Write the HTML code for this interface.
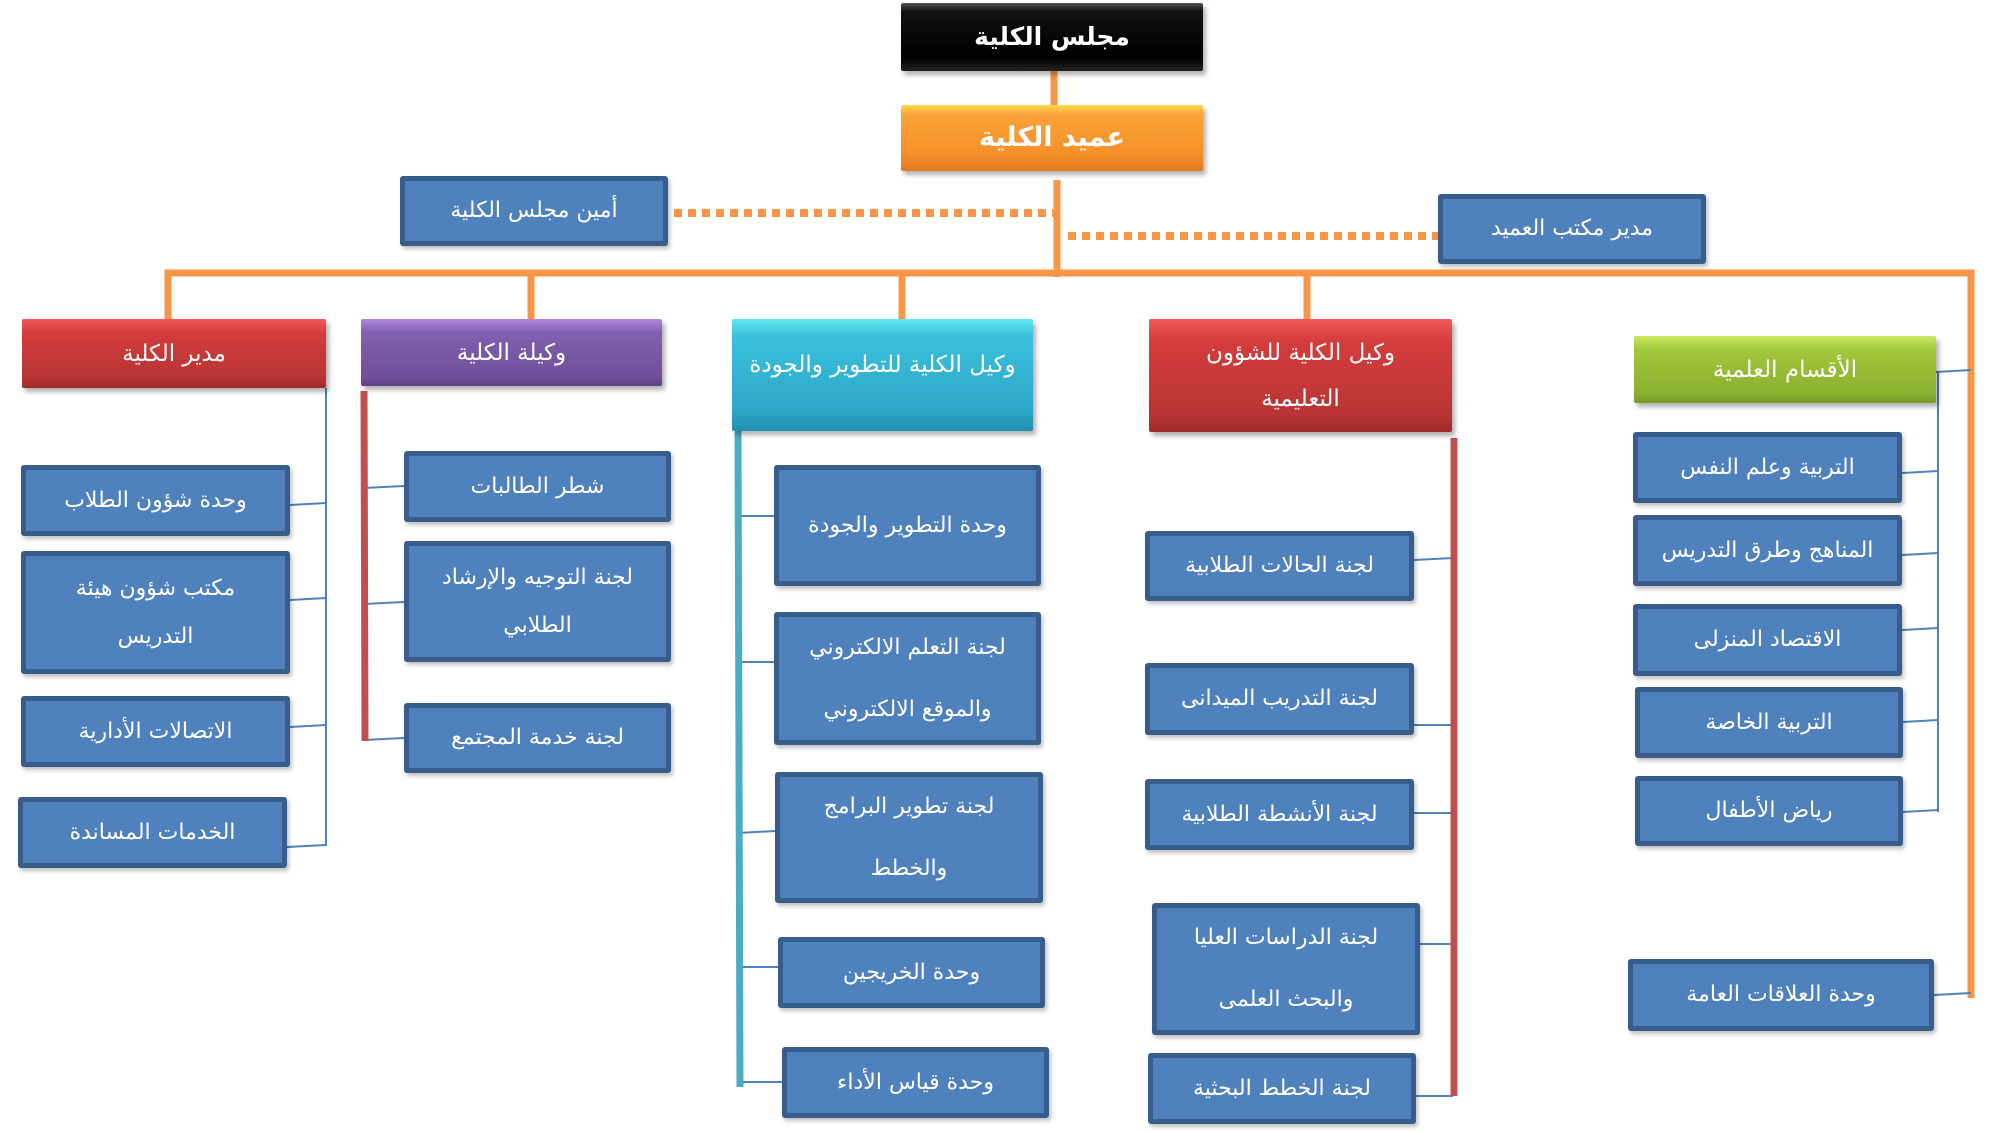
<!DOCTYPE html>
<html><head><meta charset="utf-8"><style>
html,body{margin:0;padding:0;background:#fff;}
body{width:2000px;height:1132px;position:relative;overflow:hidden;font-family:"DejaVu Sans",sans-serif;}
.b{position:absolute;box-sizing:border-box;background:#4f81bd;border:5px solid #385d8a;border-radius:3px;color:#fff;display:flex;align-items:center;justify-content:center;text-align:center;font-size:22px;line-height:48px;direction:rtl;box-shadow:2px 3px 4px rgba(0,0,0,0.25);}
.h{position:absolute;box-sizing:border-box;color:#fff;display:flex;align-items:center;justify-content:center;text-align:center;font-size:23px;line-height:46px;direction:rtl;box-shadow:3px 4px 5px rgba(0,0,0,0.3);border-radius:2px;}
svg{position:absolute;left:0;top:0;}
</style></head><body>
<svg width="2000" height="1132">
<g stroke="#f79646" stroke-width="7" fill="none">
<line x1="1054" y1="71" x2="1054" y2="105"/>
<line x1="1057" y1="180" x2="1057" y2="277"/>
<polyline points="168,319 168,273 1971,273 1971,998"/>
<line x1="531" y1="273" x2="531" y2="319"/>
<line x1="902" y1="273" x2="902" y2="319"/>
<line x1="1307" y1="273" x2="1307" y2="319"/>
</g>
<g stroke="#f79646" stroke-width="8" stroke-dasharray="8,6" fill="none">
<line x1="674" y1="213" x2="1057" y2="213"/>
<line x1="1068" y1="236" x2="1438" y2="236"/>
</g>
<line x1="1934" y1="995" x2="1971" y2="993" stroke="#4f81bd" stroke-width="2"/>
<g stroke="#4f81bd" stroke-width="2" fill="none">
<line x1="326" y1="388" x2="326" y2="846"/>
<line x1="290" y1="505" x2="326" y2="503"/>
<line x1="290" y1="600" x2="326" y2="598"/>
<line x1="290" y1="727" x2="326" y2="725"/>
<line x1="287" y1="847" x2="326" y2="845"/>
<line x1="1938" y1="372" x2="1938" y2="812"/>
<line x1="1936" y1="372" x2="1971" y2="370"/>
<line x1="1902" y1="473" x2="1938" y2="471"/>
<line x1="1902" y1="555" x2="1938" y2="553"/>
<line x1="1902" y1="630" x2="1938" y2="628"/>
<line x1="1902" y1="722" x2="1938" y2="720"/>
<line x1="1902" y1="812" x2="1938" y2="810"/>
<line x1="364" y1="488" x2="404" y2="486"/>
<line x1="364" y1="604" x2="404" y2="602"/>
<line x1="364" y1="740" x2="404" y2="738"/>
<line x1="738" y1="516" x2="774" y2="516"/>
<line x1="738" y1="662" x2="774" y2="662"/>
<line x1="738" y1="833" x2="775" y2="831"/>
<line x1="738" y1="967" x2="778" y2="967"/>
<line x1="738" y1="1082" x2="782" y2="1082"/>
<line x1="1414" y1="560" x2="1453" y2="558"/>
<line x1="1414" y1="725" x2="1453" y2="725"/>
<line x1="1414" y1="813" x2="1453" y2="813"/>
<line x1="1420" y1="944" x2="1453" y2="944"/>
<line x1="1416" y1="1096" x2="1453" y2="1096"/>
</g>
<line x1="364" y1="391" x2="365" y2="741" stroke="#c0504d" stroke-width="7"/>
<line x1="738" y1="431" x2="740" y2="1087" stroke="#4bacc6" stroke-width="7"/>
<line x1="1454" y1="438" x2="1454" y2="1096" stroke="#c0504d" stroke-width="7"/>
</svg>

<div class="h" style="left:901px;top:3px;width:302px;height:68px;background:linear-gradient(#555 0,#111 12%,#000 80%,#222 100%);font-weight:bold;font-size:25px;">مجلس الكلية</div>
<div class="h" style="left:901px;top:105px;width:302px;height:66px;background:linear-gradient(#ffd84a 0,#f9a33a 15%,#f7922a 70%,#e07a20 100%);font-weight:bold;font-size:27px;">عميد الكلية</div>
<div class="b" style="left:400px;top:176px;width:268px;height:70px;">أمين مجلس الكلية</div>
<div class="b" style="left:1438px;top:194px;width:268px;height:70px;">مدير مكتب العميد</div>

<div class="h" style="left:22px;top:319px;width:304px;height:69px;background:linear-gradient(#f0585a 0,#d43c3c 20%,#b83535 85%,#9e2a2a 100%);">مدير الكلية</div>
<div class="h" style="left:361px;top:319px;width:301px;height:67px;background:linear-gradient(#b088e0 0,#8060b0 20%,#70509a 85%,#5e4285 100%);">وكيلة الكلية</div>
<div class="h" style="left:732px;top:319px;width:301px;height:112px;background:linear-gradient(#60e8f0 0,#3ac0dc 15%,#2ea8c8 80%,#2290b0 100%);padding-bottom:20px;">وكيل الكلية للتطوير والجودة</div>
<div class="h" style="left:1149px;top:319px;width:303px;height:113px;background:linear-gradient(#f0585a 0,#d43c3c 20%,#b83535 85%,#9e2a2a 100%);">وكيل الكلية للشؤون<br>التعليمية</div>
<div class="h" style="left:1634px;top:336px;width:302px;height:67px;background:linear-gradient(#c8e860 0,#a2c83c 20%,#8ab030 85%,#789a28 100%);">الأقسام العلمية</div>

<div class="b" style="left:21px;top:465px;width:269px;height:71px;">وحدة شؤون الطلاب</div>
<div class="b" style="left:21px;top:551px;width:269px;height:123px;">مكتب شؤون هيئة<br>التدريس</div>
<div class="b" style="left:21px;top:696px;width:269px;height:71px;">الاتصالات الأدارية</div>
<div class="b" style="left:18px;top:797px;width:269px;height:71px;">الخدمات المساندة</div>

<div class="b" style="left:404px;top:451px;width:267px;height:71px;">شطر الطالبات</div>
<div class="b" style="left:404px;top:541px;width:267px;height:121px;">لجنة التوجيه والإرشاد<br>الطلابي</div>
<div class="b" style="left:404px;top:703px;width:267px;height:70px;">لجنة خدمة المجتمع</div>

<div class="b" style="left:774px;top:465px;width:267px;height:121px;">وحدة التطوير والجودة</div>
<div class="b" style="left:774px;top:612px;width:267px;height:133px;line-height:62px;">لجنة التعلم الالكتروني<br>والموقع الالكتروني</div>
<div class="b" style="left:775px;top:772px;width:268px;height:131px;line-height:62px;">لجنة تطوير البرامج<br>والخطط</div>
<div class="b" style="left:778px;top:937px;width:267px;height:71px;">وحدة الخريجين</div>
<div class="b" style="left:782px;top:1047px;width:267px;height:71px;">وحدة قياس الأداء</div>

<div class="b" style="left:1145px;top:531px;width:269px;height:70px;">لجنة الحالات الطلابية</div>
<div class="b" style="left:1145px;top:663px;width:269px;height:72px;">لجنة التدريب الميدانى</div>
<div class="b" style="left:1145px;top:779px;width:269px;height:71px;">لجنة الأنشطة الطلابية</div>
<div class="b" style="left:1152px;top:903px;width:268px;height:132px;line-height:62px;">لجنة الدراسات العليا<br>والبحث العلمى</div>
<div class="b" style="left:1148px;top:1053px;width:268px;height:71px;">لجنة الخطط البحثية</div>

<div class="b" style="left:1633px;top:432px;width:269px;height:71px;">التربية وعلم النفس</div>
<div class="b" style="left:1633px;top:515px;width:269px;height:71px;">المناهج وطرق التدريس</div>
<div class="b" style="left:1633px;top:604px;width:269px;height:72px;">الاقتصاد المنزلى</div>
<div class="b" style="left:1635px;top:687px;width:268px;height:71px;">التربية الخاصة</div>
<div class="b" style="left:1635px;top:776px;width:268px;height:70px;">رياض الأطفال</div>
<div class="b" style="left:1628px;top:959px;width:306px;height:72px;">وحدة العلاقات العامة</div>
</body></html>
